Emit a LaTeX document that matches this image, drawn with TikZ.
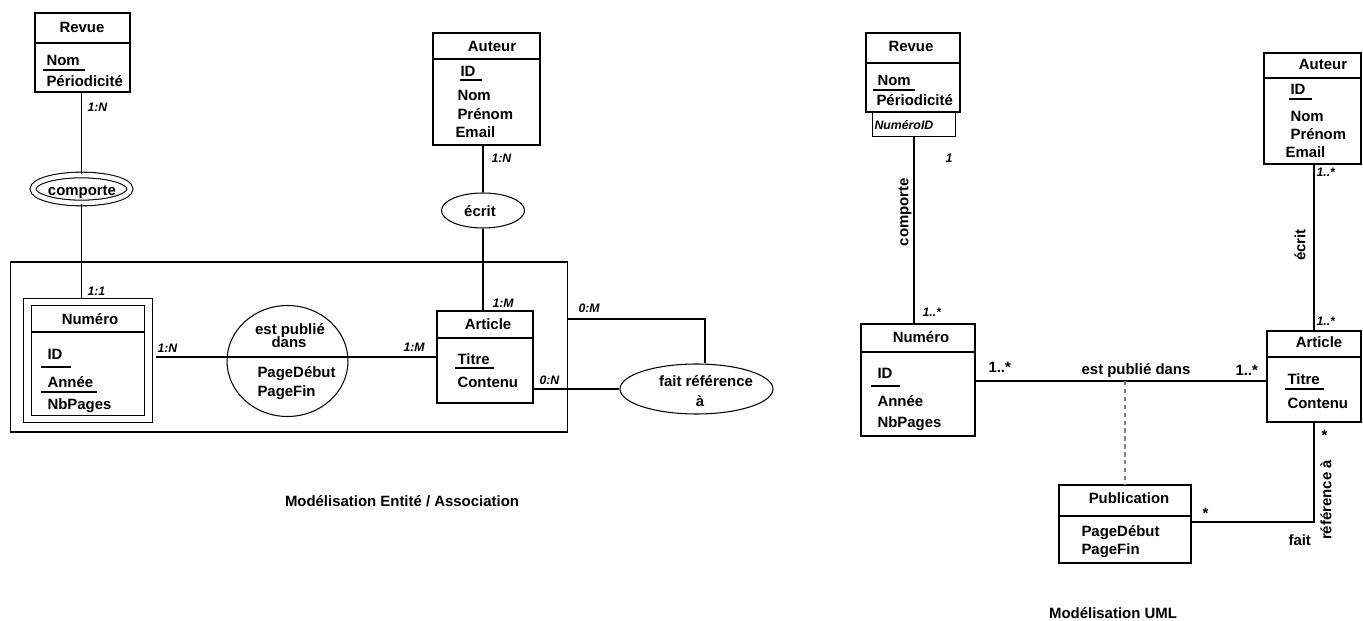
\documentclass[tikz,border=0pt]{standalone}
\usepackage{fontspec}
\setmainfont{Liberation Sans}
\usetikzlibrary{shapes.geometric,calc}

\begin{document}
\begin{tikzpicture}[x=0.02cm,y=-0.02cm,line width=0.6pt,
    box/.style={draw,inner sep=0pt},
    oval/.style={draw,ellipse,inner sep=0pt},
    lbl/.style={font=\fontsize{8.5}{10}\selectfont\bfseries,inner sep=0pt,anchor=base west},
    lblc/.style={lbl,anchor=base},
    card/.style={font=\fontsize{7}{8}\selectfont\bfseries\itshape,inner sep=0pt,anchor=base west},
    vlbl/.style={font=\fontsize{8.5}{10}\selectfont\bfseries,inner sep=0pt,rotate=90}]
  \useasboundingbox (0,0) rectangle (1363,621);

  % Entite / Association
  \node[box,minimum width=1.9cm,minimum height=1.58cm] (revueA) at (82.5,52.5) {};
  \draw (revueA.west |- 0,43) -- (revueA.east |- 0,43);
  \node[lblc] (revueAt) at (82,33) {Revue};
  \node[lbl] (revueAn) at (46,66) {Nom};
  \draw (43,70) -- (85,70);
  \node[lbl] (revueAp) at (46,87) {Périodicité};

  \node[oval,double,double distance=2.6pt,minimum width=1.94cm,minimum height=0.56cm] (compA) at (81.5,189) {};
  \node[lblc] (compAt) at (82,196) {comporte};

  \node[box,minimum width=2.14cm,minimum height=2.24cm] (autA) at (486.5,89) {};
  \draw (autA.west |- 0,59) -- (autA.east |- 0,59);
  \node[lblc] (autAt) at (492,52) {Auteur};
  \node[lbl] (autAid) at (460,77) {ID};
  \draw (460,80) -- (482,80);
  \node[lbl] (autAn) at (457,101) {Nom};
  \node[lbl] (autAp) at (457,120) {Prénom};
  \node[lbl] (autAe) at (455,138) {Email};

  \node[oval,minimum width=1.66cm,minimum height=0.7cm] (ecrA) at (483,210.5) {};
  \node[lblc] (ecrAt) at (480,217) {écrit};

  \node[box,minimum width=11.16cm,minimum height=3.4cm] (agg) at (289,347) {};

  \node[box,double,double distance=3.7pt,minimum width=2.42cm,minimum height=2.34cm] (numA) at (88,360.5) {};
  \draw (31,332) -- (145,332);
  \node[lblc] (numAt) at (90,325) {Numéro};
  \node[lbl] (numAid) at (47,360) {ID};
  \draw (41,367) -- (71,367);
  \node[lbl] (numAa) at (47,388) {Année};
  \draw (41,392) -- (97,392);
  \node[lbl] (numAnb) at (47,410) {NbPages};

  \node[oval,minimum width=2.42cm,minimum height=2.22cm] (pubA) at (287.5,361) {};
  \node[lblc] (pubAt1) at (290,335) {est publié};
  \node[lblc] (pubAt2) at (289,348) {dans};
  \node[lbl] (pubAd) at (257,378) {PageDébut};
  \node[lbl] (pubAf) at (257,397) {PageFin};

  \node[box,minimum width=1.92cm,minimum height=1.84cm] (artA) at (485,357) {};
  \draw (artA.west |- 0,338) -- (artA.east |- 0,338);
  \node[lblc] (artAt) at (488,330) {Article};
  \node[lbl] (artAti) at (457,365) {Titre};
  \draw (455,368) -- (494,368);
  \node[lbl] (artAc) at (457,388) {Contenu};

  \node[oval,minimum width=3.06cm,minimum height=1.0cm] (frefA) at (696.5,389) {};
  \node[lblc] (frefAt1) at (706,387) {fait référence};
  \node[lblc] (frefAt2) at (700,407) {à};

  \draw (compA.north |- revueA.south) -- (compA.north);
  \draw[shorten >=2pt] (compA.south) -- (compA.south |- numA.north);
  \draw (ecrA.north |- autA.south) -- (ecrA.north);
  \draw (ecrA.south) -- (ecrA.south |- artA.north);
  \draw[shorten <=4.2pt] (numA.east |- 0,357) -- (artA.west |- 0,357);
  \draw (agg.east |- 0,319) -| ($(frefA.north)+(8.5,0)$);
  \draw (artA.east |- frefA.west) -- (frefA.west);

  \node[card] (cA1) at (87,112) {1:N};
  \node[card] (cA2) at (491,163) {1:N};
  \node[card] (cA3) at (87,296) {1:1};
  \node[card] (cA4) at (157,353) {1:N};
  \node[card] (cA5) at (403,352) {1:M};
  \node[card] (cA6) at (492,308) {1:M};
  \node[card] (cA7) at (578,313) {0:M};
  \node[card] (cA8) at (539,385) {0:N};

  \node[lblc] (capA) at (402,506) {Modélisation Entité / Association};

  % UML
  \node[box,minimum width=1.88cm,minimum height=1.58cm] (revueB) at (913,72.5) {};
  \draw (revueB.west |- 0,63) -- (revueB.east |- 0,63);
  \node[lblc] (revueBt) at (911,52) {Revue};
  \node[lbl] (revueBn) at (877,86) {Nom};
  \draw (873,90) -- (915,90);
  \node[lbl] (revueBp) at (876,106) {Périodicité};
  \node[box,minimum width=1.66cm,minimum height=0.48cm] (qualB) at (914,124.5) {};
  \node[card] (qualBt) at (874,130) {NuméroID};

  \node[box,minimum width=2.28cm,minimum height=2.24cm] (numB) at (918,380) {};
  \draw (numB.west |- 0,352) -- (numB.east |- 0,352);
  \node[lblc] (numBt) at (921,343) {Numéro};
  \node[lbl] (numBid) at (877,379) {ID};
  \draw (871,386) -- (900,386);
  \node[lbl] (numBa) at (877,407) {Année};
  \node[lbl] (numBnb) at (877,428) {NbPages};

  \node[box,minimum width=1.94cm,minimum height=2.22cm] (autB) at (1312.5,108.5) {};
  \draw (autB.west |- 0,78) -- (autB.east |- 0,78);
  \node[lblc] (autBt) at (1323,70) {Auteur};
  \node[lbl] (autBid) at (1290,95) {ID};
  \draw (1289,99) -- (1312,99);
  \node[lbl] (autBn) at (1290,122) {Nom};
  \node[lbl] (autBp) at (1290,140) {Prénom};
  \node[lbl] (autBe) at (1285,158) {Email};

  \node[box,minimum width=1.88cm,minimum height=1.82cm] (artB) at (1314,376.5) {};
  \draw (artB.west |- 0,357) -- (artB.east |- 0,357);
  \node[lblc] (artBt) at (1319,348) {Article};
  \node[lbl] (artBti) at (1287,385) {Titre};
  \draw (1285,389) -- (1324,389);
  \node[lbl] (artBc) at (1287,409) {Contenu};

  \node[box,minimum width=2.64cm,minimum height=1.56cm] (pubB) at (1125,524) {};
  \draw (pubB.west |- 0,516) -- (pubB.east |- 0,516);
  \node[lblc] (pubBt) at (1129,503) {Publication};
  \node[lbl] (pubBd) at (1081,537) {PageDébut};
  \node[lbl] (pubBf) at (1081,555) {PageFin};

  \draw (qualB.south) -- (qualB.south |- numB.north);
  \draw (numB.east |- 0,381) -- (artB.west |- 0,381);
  \draw[dashed,dash pattern=on 2.5pt off 2pt,gray] (pubB.north |- 0,381) -- (pubB.north);
  \draw (artB.north |- autB.south) -- (artB.north);
  \draw (pubB.east |- 0,522) -| (artB.south);

  \node[card] (cB1) at (945,163) {1};
  \node[vlbl] (compB) at (905,212) {comporte};
  \node[card] (cB2) at (922,317) {1..*};
  \node[lbl] (cB3) at (988,373) {1..*};
  \node[lblc] (pubBl) at (1136,375) {est publié dans};
  \node[lbl] (cB4) at (1235,376) {1..*};
  \node[card] (cB5) at (1316,177) {1..*};
  \node[vlbl] (ecrB) at (1300,245) {écrit};
  \node[card] (cB6) at (1316,326) {1..*};
  \node[lbl] (cB7) at (1202,519) {*};
  \node[lbl] (cB8) at (1321,441) {*};
  \node[lbl] (faitB) at (1288,545) {fait};
  \node[vlbl] (frefB) at (1326,500) {référence à};

  \node[lblc] (capB) at (1113,618) {Modélisation UML};
\end{tikzpicture}
\end{document}
